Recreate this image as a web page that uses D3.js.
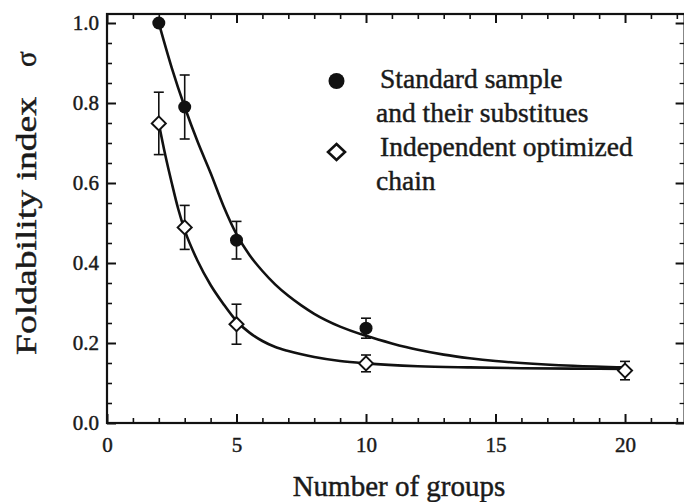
<!DOCTYPE html>
<html>
<head>
<meta charset="utf-8">
<script src="https://cdn.jsdelivr.net/npm/d3@7"></script>
<style>
  html, body { margin: 0; padding: 0; background: #fff; }
  svg { display: block; }
  text { font-family: "Liberation Serif", "Times New Roman", serif; fill: #1a1a1a; stroke: #1a1a1a; stroke-width: 0.45px; }
</style>
</head>
<body>
<svg id="chart" width="684" height="502"></svg>
<script>
// ---- data ----
const majorXTicks = [0, 5, 10, 15, 20];
const majorYTicks = [0.0, 0.2, 0.4, 0.6, 0.8, 1.0];

// Standard sample and their substitues (filled circles)
const stdX   = [2, 3, 5, 10];
const stdY   = [1.0, 0.79, 0.457, 0.237];
const stdErr = [0, 0.08, 0.047, 0.025];

// Independent optimized chain (open diamonds)
const indX   = [2, 3, 5, 10, 20];
const indY   = [0.749, 0.489, 0.247, 0.149, 0.131];
const indErr = [0.078, 0.055, 0.05, 0.021, 0.023];

// fitted curves, points
const stdFitX = [2, 2.5, 3, 3.5, 4, 4.5, 5, 5.5, 6, 6.5, 7, 7.5, 8, 9, 10, 11, 12, 13, 14, 15, 16, 18, 20];
const stdFitY = [1.0, 0.888, 0.79, 0.703, 0.625, 0.542, 0.472, 0.42, 0.38, 0.346, 0.318, 0.294, 0.273, 0.241, 0.218, 0.199, 0.183, 0.171, 0.162, 0.155, 0.15, 0.143, 0.139];
const indFitX = [2, 2.25, 2.5, 2.75, 3, 3.5, 4, 4.5, 5, 5.5, 6, 6.5, 7, 8, 9, 10, 12, 14, 16, 18, 20];
const indFitY = [0.749, 0.67, 0.6, 0.535, 0.482, 0.405, 0.345, 0.297, 0.255, 0.226, 0.205, 0.19, 0.18, 0.165, 0.155, 0.149, 0.142, 0.139, 0.137, 0.136, 0.135];

const legendLabels = [["Standard sample", "and their substitues"], ["Independent optimized", "chain"]];
const xTitle = "Number of groups";
const yTitle = "Foldability index";
const ySymbol = "σ";

// ---- layout ----
const svg = d3.select("#chart");
const x = d3.scaleLinear().domain([0, 22.3]).range([107, 684.6]);
const y = d3.scaleLinear().domain([0, 1.0225]).range([423, 14]);

const minorX = d3.range(0, 23, 1).filter(v => v % 5 !== 0);
const minorY = d3.range(0, 21, 1).map(v => v * 0.05).filter((v, i) => i % 4 !== 0);

function styleAxis(g, w) {
  g.select(".domain").remove();
  g.selectAll(".tick line").attr("stroke", "#111").attr("stroke-width", w);
  g.selectAll("text").style("font-size", "21px").attr("fill", "#1a1a1a")
    .style("font-family", '"Liberation Serif", "Times New Roman", serif');
}

// bottom
svg.append("g").attr("transform", `translate(0,${y(0)})`)
  .call(d3.axisBottom(x).tickValues(minorX).tickSize(-5).tickFormat(""))
  .call(g => styleAxis(g, 1.6));
svg.append("g").attr("transform", `translate(0,${y(0)})`)
  .call(d3.axisBottom(x).tickValues(majorXTicks).tickSize(-9).tickPadding(14).tickFormat(d3.format("d")))
  .call(g => styleAxis(g, 2));
// top
svg.append("g").attr("transform", `translate(0,${y.range()[1]})`)
  .call(d3.axisTop(x).tickValues(minorX).tickSize(-5).tickFormat(""))
  .call(g => styleAxis(g, 1.6));
svg.append("g").attr("transform", `translate(0,${y.range()[1]})`)
  .call(d3.axisTop(x).tickValues(majorXTicks).tickSize(-9).tickFormat(""))
  .call(g => styleAxis(g, 2));
// left
svg.append("g").attr("transform", `translate(${x(0)},0)`)
  .call(d3.axisLeft(y).tickValues(minorY).tickSize(-5).tickFormat(""))
  .call(g => styleAxis(g, 1.6));
svg.append("g").attr("transform", `translate(${x(0)},0)`)
  .call(d3.axisLeft(y).tickValues(majorYTicks).tickSize(-9).tickPadding(8).tickFormat(d3.format(".1f")))
  .call(g => styleAxis(g, 2));
// right
svg.append("g").attr("transform", `translate(${x.range()[1]},0)`)
  .call(d3.axisRight(y).tickValues(minorY).tickSize(-5).tickFormat(""))
  .call(g => styleAxis(g, 1.3));
svg.append("g").attr("transform", `translate(${x.range()[1]},0)`)
  .call(d3.axisRight(y).tickValues(majorYTicks).tickSize(-9).tickFormat(""))
  .call(g => styleAxis(g, 2));

// frame
svg.append("rect")
  .attr("x", x.range()[0]).attr("y", y.range()[1])
  .attr("width", x.range()[1] - x.range()[0]).attr("height", y.range()[0] - y.range()[1])
  .attr("fill", "none").attr("stroke", "#111").attr("stroke-width", 2.2);

// fitted curves
const line = d3.line().x(d => x(d[0])).y(d => y(d[1])).curve(d3.curveMonotoneX);
svg.append("path").datum(d3.zip(stdFitX, stdFitY)).attr("d", line)
  .attr("fill", "none").attr("stroke", "#111").attr("stroke-width", 2.6);
svg.append("path").datum(d3.zip(indFitX, indFitY)).attr("d", line)
  .attr("fill", "none").attr("stroke", "#111").attr("stroke-width", 2.6);

// error bars
function errorBars(xs, ys, es) {
  const g = svg.append("g").attr("stroke", "#111").attr("stroke-width", 1.6);
  const d = d3.zip(xs, ys, es).filter(p => p[2] > 0);
  g.selectAll("line.v").data(d).join("line")
    .attr("x1", p => x(p[0])).attr("x2", p => x(p[0]))
    .attr("y1", p => y(p[1] + p[2])).attr("y2", p => y(p[1] - p[2]));
  g.selectAll("line.t").data(d).join("line").attr("class", "t")
    .attr("x1", p => x(p[0]) - 5).attr("x2", p => x(p[0]) + 5)
    .attr("y1", p => y(p[1] + p[2])).attr("y2", p => y(p[1] + p[2]));
  g.selectAll("line.b").data(d).join("line").attr("class", "b")
    .attr("x1", p => x(p[0]) - 5).attr("x2", p => x(p[0]) + 5)
    .attr("y1", p => y(p[1] - p[2])).attr("y2", p => y(p[1] - p[2]));
}
errorBars(stdX, stdY, stdErr);
errorBars(indX, indY, indErr);

// markers
const diamond = (cx, cy, h, v) => `M${cx},${cy - v}L${cx + h},${cy}L${cx},${cy + v}L${cx - h},${cy}Z`;
svg.append("g").selectAll("path").data(d3.zip(indX, indY)).join("path")
  .attr("d", p => diamond(x(p[0]), y(p[1]), 7, 7))
  .attr("fill", "#fff").attr("stroke", "#111").attr("stroke-width", 2);
svg.append("g").selectAll("circle").data(d3.zip(stdX, stdY)).join("circle")
  .attr("cx", p => x(p[0])).attr("cy", p => y(p[1])).attr("r", 6.5)
  .attr("fill", "#111");

// legend
const leg = svg.append("g");
leg.append("circle").attr("cx", 336.5).attr("cy", 81).attr("r", 8).attr("fill", "#111");
leg.append("path").attr("d", diamond(336.5, 152, 8.5, 8))
  .attr("fill", "#fff").attr("stroke", "#111").attr("stroke-width", 2.6);
const legPos = [[[380, 88], [376, 122]], [[380, 156], [376, 190]]];
legendLabels.forEach((lines, i) => lines.forEach((t, j) => {
  leg.append("text").attr("x", legPos[i][j][0]).attr("y", legPos[i][j][1])
    .style("font-size", "27.5px").text(t);
}));

// axis titles
svg.append("text").attr("x", 399).attr("y", 496).attr("text-anchor", "middle")
  .style("font-size", "29px").text(xTitle);
svg.append("text").attr("transform", "translate(36,355) rotate(-90)")
  .attr("text-anchor", "start").style("font-size", "29px")
  .attr("textLength", 258).attr("lengthAdjust", "spacingAndGlyphs").text(yTitle);
svg.append("text").attr("transform", "translate(36,67) rotate(-90)")
  .attr("text-anchor", "start").style("font-size", "29px").text(ySymbol);
</script>
</body>
</html>
